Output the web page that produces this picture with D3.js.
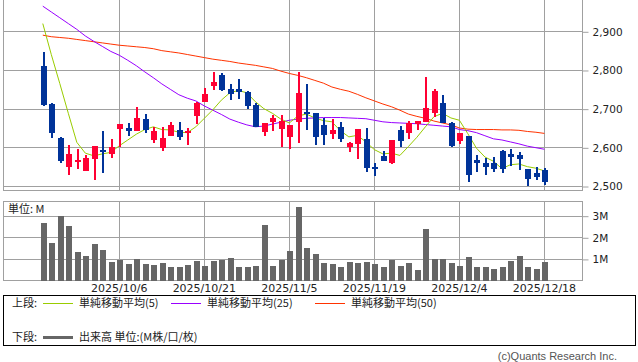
<!DOCTYPE html>
<html>
<head>
<meta charset="utf-8">
<script src="https://cdn.jsdelivr.net/npm/d3@7/dist/d3.min.js"></script>
<style>
  body { margin: 0; background: #fff; }
  svg { display: block; }
  text { font-family: 'DejaVu Sans', sans-serif; fill: #222; }
  .jp { font-family: 'Noto Sans CJK JP', sans-serif; }
</style>
</head>
<body>
<div id="chart"></div>
<script>
// trading days shown
const dates = [
  '2025/9/22', '2025/9/24', '2025/9/25', '2025/9/26', '2025/9/29', '2025/9/30',
  '2025/10/1', '2025/10/2', '2025/10/3', '2025/10/6', '2025/10/7', '2025/10/8', '2025/10/9', '2025/10/10',
  '2025/10/14', '2025/10/15', '2025/10/16', '2025/10/17', '2025/10/20', '2025/10/21', '2025/10/22',
  '2025/10/23', '2025/10/24', '2025/10/27', '2025/10/28', '2025/10/29', '2025/10/30', '2025/10/31',
  '2025/11/4', '2025/11/5', '2025/11/6', '2025/11/7', '2025/11/10', '2025/11/11', '2025/11/12',
  '2025/11/13', '2025/11/14', '2025/11/17', '2025/11/18', '2025/11/19', '2025/11/20', '2025/11/21',
  '2025/11/25', '2025/11/26', '2025/11/27', '2025/11/28',
  '2025/12/1', '2025/12/2', '2025/12/3', '2025/12/4', '2025/12/5', '2025/12/8', '2025/12/9',
  '2025/12/10', '2025/12/11', '2025/12/12', '2025/12/15', '2025/12/16', '2025/12/17', '2025/12/18'
];
const tickDates = ['2025/10/6', '2025/10/21', '2025/11/5', '2025/11/19', '2025/12/4', '2025/12/18'];
const priceTicks = [2500, 2600, 2700, 2800, 2900];
const volTicks = [1, 2, 3];

const open = [2810, 2712, 2624, 2550, 2565, 2540, 2570, 2593, 2584, 2647,
  2650, 2642, 2673, 2619, 2599, 2629, 2645, 2638, 2682, 2718,
  2758, 2787, 2752, 2751, 2744, 2709, 2640, 2666, 2647, 2627,
  2666, 2692, 2688, 2658, 2634, 2653, 2600, 2609, 2621, 2548,
  2578, 2560, 2645, 2638, 2660, 2666, 2688, 2715, 2664, 2617,
  2629, 2567, 2559, 2559, 2591, 2583, 2579, 2544, 2533, 2541];
const high = [2846, 2714, 2627, 2606, 2596, 2580, 2604, 2642, 2621, 2661,
  2663, 2705, 2686, 2652, 2652, 2665, 2665, 2650, 2718, 2754,
  2795, 2791, 2765, 2776, 2745, 2714, 2663, 2683, 2683, 2659,
  2794, 2765, 2689, 2675, 2672, 2666, 2613, 2648, 2649, 2559,
  2591, 2620, 2656, 2668, 2669, 2781, 2751, 2735, 2665, 2637,
  2630, 2580, 2572, 2574, 2592, 2595, 2588, 2545, 2548, 2546];
const low = [2707, 2625, 2560, 2529, 2545, 2539, 2516, 2533, 2573, 2602,
  2629, 2641, 2638, 2610, 2591, 2629, 2619, 2606, 2660, 2717,
  2748, 2746, 2722, 2724, 2698, 2652, 2630, 2642, 2600, 2596,
  2610, 2645, 2606, 2606, 2621, 2614, 2589, 2569, 2535, 2527,
  2564, 2556, 2600, 2621, 2645, 2665, 2679, 2663, 2600, 2608,
  2511, 2535, 2528, 2537, 2533, 2552, 2541, 2501, 2516, 2503];
const close = [2710, 2638, 2565, 2583, 2567, 2573, 2603, 2588, 2602, 2660,
  2643, 2676, 2645, 2642, 2625, 2658, 2627, 2641, 2714, 2737,
  2768, 2748, 2737, 2743, 2707, 2653, 2662, 2675, 2668, 2658,
  2740, 2688, 2627, 2632, 2645, 2621, 2612, 2647, 2547, 2545,
  2565, 2619, 2617, 2662, 2668, 2701, 2745, 2664, 2603, 2636,
  2528, 2560, 2550, 2545, 2543, 2576, 2571, 2517, 2522, 2511];

// moving averages
const ma5 = [2920, 2840, 2765, 2688, 2613, 2585, 2578, 2583, 2587, 2604,
  2619, 2634, 2646, 2653, 2646, 2645, 2639, 2638, 2653, 2675,
  2697, 2722, 2741, 2747, 2741, 2718, 2700, 2688, 2673, 2663,
  2681, 2686, 2676, 2669, 2666, 2643, 2627, 2631, 2614, 2594,
  2583, 2585, 2579, 2602, 2626, 2653, 2679, 2688, 2676, 2670,
  2635, 2598, 2575, 2564, 2545, 2555, 2557, 2550, 2546, 2539];
const ma25 = [2965, 2950, 2935, 2920, 2905, 2888, 2874, 2861, 2848, 2838,
  2825, 2811, 2795, 2780, 2764, 2750, 2736, 2727, 2720, 2707,
  2696, 2685, 2673, 2665, 2658, 2653, 2655, 2660, 2665, 2670,
  2673, 2675, 2676, 2677, 2677, 2677, 2676, 2675, 2674, 2670,
  2666, 2664, 2663, 2662, 2661, 2659, 2657, 2655, 2653, 2646,
  2643, 2638, 2630, 2622, 2619, 2614, 2609, 2603, 2599, 2595];
const ma50 = [2890, 2886, 2884, 2882, 2879, 2876, 2873, 2870, 2867, 2864,
  2862, 2860, 2858, 2855, 2850, 2847, 2844, 2840, 2836, 2832,
  2828, 2825, 2822, 2818, 2815, 2812, 2808, 2804, 2797, 2791,
  2786, 2780, 2773, 2766, 2756, 2750, 2745, 2737, 2728, 2720,
  2712, 2705, 2696, 2686, 2680, 2675, 2668, 2663, 2658, 2650,
  2647, 2646, 2646, 2646, 2645, 2645, 2644, 2641, 2639, 2636];

// volume in millions
const volume = [2.67, 1.73, 2.99, 2.53, 1.32, 1.13, 1.69, 1.41, 0.85, 0.94,
  0.76, 0.99, 0.76, 0.71, 0.80, 0.62, 0.62, 0.71, 0.90, 0.67,
  0.90, 0.94, 1.04, 0.62, 0.62, 0.67, 2.57, 0.67, 0.94, 1.36,
  3.41, 1.50, 1.22, 0.80, 0.76, 0.62, 0.85, 0.80, 0.85, 0.76,
  0.62, 0.94, 0.67, 0.80, 0.48, 2.39, 0.99, 0.99, 0.80, 0.67,
  1.08, 0.62, 0.62, 0.53, 0.62, 0.90, 1.13, 0.62, 0.53, 0.85];

const width = 638, height = 362;
const left = 3, right = 582;
const priceTop = -2, priceBottom = 190;
const volTop = 201.5, volBottom = 280.5;
const gridColor = '#a0a0a0';
const upColor = '#ff0033', downColor = '#003399';

let svg = d3.select('#chart')
  .append('svg')
  .attr('width', width)
  .attr('height', height);

// scales
let xScale = d3.scaleLinear()
  .domain([-4.68, 63.42])
  .range([left, right]);
let yScale = d3.scaleLinear()
  .domain([2500, 2900])
  .range([186, 31.3]);
let vScale = d3.scaleLinear()
  .domain([0, 3.656])
  .range([volBottom, volTop]);

let idx = d3.range(dates.length);
let tickIdx = tickDates.map(d => dates.indexOf(d));
let px = i => Math.round(xScale(i));

// price panel grid + frame
let grid = svg.append('g')
  .attr('stroke', gridColor)
  .attr('shape-rendering', 'crispEdges');
grid.selectAll('line.hp')
  .data(priceTicks)
  .enter()
  .append('line')
  .attr('x1', left).attr('x2', right)
  .attr('y1', d => Math.round(yScale(d)) + 0.5)
  .attr('y2', d => Math.round(yScale(d)) + 0.5);
grid.selectAll('line.vp')
  .data(tickIdx)
  .enter()
  .append('line')
  .attr('x1', d => px(d) + 0.5).attr('x2', d => px(d) + 0.5)
  .attr('y1', priceTop).attr('y2', priceBottom);
grid.append('rect')
  .attr('x', left + 0.5).attr('y', priceTop)
  .attr('width', right - left).attr('height', priceBottom - priceTop + 0.5)
  .attr('fill', 'none');

// volume panel grid + frame
grid.selectAll('line.hv')
  .data(volTicks)
  .enter()
  .append('line')
  .attr('x1', left).attr('x2', right)
  .attr('y1', d => Math.round(vScale(d)) + 0.5)
  .attr('y2', d => Math.round(vScale(d)) + 0.5);
grid.selectAll('line.vv')
  .data(tickIdx)
  .enter()
  .append('line')
  .attr('x1', d => px(d) + 0.5).attr('x2', d => px(d) + 0.5)
  .attr('y1', volTop).attr('y2', volBottom);
grid.append('rect')
  .attr('x', left + 0.5).attr('y', volTop)
  .attr('width', right - left).attr('height', volBottom - volTop)
  .attr('fill', 'none');

// right axes
let priceAxis = d3.axisRight(yScale)
  .tickValues(priceTicks)
  .tickSize(6)
  .tickPadding(4)
  .tickFormat(d3.format(','));
let pa = svg.append('g')
  .attr('transform', 'translate(' + (right + 0.5) + ',0.5)')
  .call(priceAxis);
pa.select('.domain').remove();
pa.selectAll('line').attr('stroke', gridColor);
pa.selectAll('text').style('font-size', '10.5px').attr('fill', '#222');

let volAxis = d3.axisRight(vScale)
  .tickValues(volTicks)
  .tickSize(6)
  .tickPadding(4)
  .tickFormat(d => d + 'M');
let va = svg.append('g')
  .attr('transform', 'translate(' + (right + 0.5) + ',0.5)')
  .call(volAxis);
va.select('.domain').remove();
va.selectAll('line').attr('stroke', gridColor);
va.selectAll('text').style('font-size', '10.5px').attr('fill', '#222');

// date labels
svg.selectAll('text.date')
  .data(tickIdx)
  .enter()
  .append('text')
  .attr('class', 'date')
  .attr('x', d => xScale(d))
  .attr('y', 292)
  .style('text-anchor', 'middle')
  .style('font-size', '11px')
  .text(d => dates[d]);

// moving averages
let lineOf = arr => d3.line()
  .x(i => xScale(i))
  .y(i => yScale(arr[i]))(idx);
let maLines = [[ma50, '#ff3300'], [ma25, '#9900ff'], [ma5, '#99cc00']];
svg.selectAll('path.ma')
  .data(maLines)
  .enter()
  .append('path')
  .attr('class', 'ma')
  .attr('d', d => lineOf(d[0]))
  .attr('fill', 'none')
  .attr('stroke', d => d[1])
  .attr('stroke-width', 1);

// candles
let candle = svg.append('g')
  .attr('shape-rendering', 'crispEdges');
candle.selectAll('line.wick')
  .data(idx)
  .enter()
  .append('line')
  .attr('class', 'wick')
  .attr('x1', i => px(i) + 0.5).attr('x2', i => px(i) + 0.5)
  .attr('y1', i => yScale(high[i])).attr('y2', i => yScale(low[i]))
  .attr('stroke', i => close[i] >= open[i] ? upColor : downColor)
  .attr('stroke-width', 2);
candle.selectAll('rect.body')
  .data(idx)
  .enter()
  .append('rect')
  .attr('class', 'body')
  .attr('x', i => px(i) - 2.5)
  .attr('y', i => yScale(Math.max(open[i], close[i])))
  .attr('width', 6)
  .attr('height', i => Math.max(2, Math.abs(yScale(open[i]) - yScale(close[i]))))
  .attr('fill', i => close[i] >= open[i] ? upColor : downColor);

// volume bars
svg.append('g')
  .attr('shape-rendering', 'crispEdges')
  .selectAll('rect')
  .data(idx)
  .enter()
  .append('rect')
  .attr('x', i => px(i) - 2.5)
  .attr('y', i => vScale(volume[i]))
  .attr('width', 6)
  .attr('height', i => volBottom - vScale(volume[i]))
  .attr('fill', '#666');

svg.append('text')
  .attr('class', 'jp')
  .attr('x', 8).attr('y', 213)
  .style('font-size', '11px')
  .text('単位: M');

// legend box
let legend = svg.append('g');
legend.append('rect')
  .attr('x', 3.5).attr('y', 295.5)
  .attr('width', 632).attr('height', 50)
  .attr('fill', 'none')
  .attr('stroke', '#000')
  .attr('shape-rendering', 'crispEdges');

let legendRows = [
  { label: '上段:', y: 303, items: [
    { x: 43, color: '#99cc00', w: 1, text: '単純移動平均(5)' },
    { x: 171, color: '#9900ff', w: 1, text: '単純移動平均(25)' },
    { x: 315, color: '#ff3300', w: 1, text: '単純移動平均(50)' }] },
  { label: '下段:', y: 337, items: [
    { x: 43, color: '#666', w: 3, text: '出来高 単位:(M株/口/枚)' }] }
];
legendRows.forEach(row => {
  legend.append('text')
    .attr('class', 'jp')
    .attr('x', 12).attr('y', row.y)
    .attr('dy', '0.35em')
    .style('font-size', '11px')
    .text(row.label);
  row.items.forEach(it => {
    legend.append('line')
      .attr('x1', it.x).attr('x2', it.x + 30)
      .attr('y1', row.y + 0.5).attr('y2', row.y + 0.5)
      .attr('stroke', it.color)
      .attr('stroke-width', it.w)
      .attr('shape-rendering', 'crispEdges');
    legend.append('text')
      .attr('class', 'jp')
      .attr('x', it.x + 36).attr('y', row.y)
      .attr('dy', '0.35em')
      .style('font-size', '11px')
      .text(it.text);
  });
});

svg.append('text')
  .attr('x', 617).attr('y', 360)
  .style('text-anchor', 'end')
  .style('font-family', "'Liberation Sans', sans-serif")
  .style('font-size', '11px')
  .style('fill', '#555')
  .text('(c)Quants Research Inc.');
</script>
</body>
</html>
